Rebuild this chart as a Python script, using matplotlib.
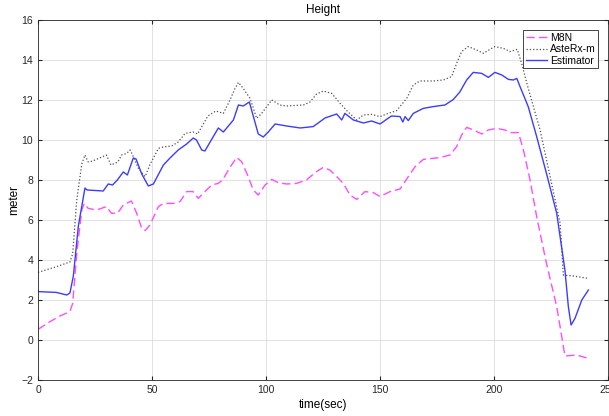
import numpy as np
import matplotlib.pyplot as plt

plt.rcParams.update({'font.size': 8, 'font.family': ['Liberation Sans', 'DejaVu Sans']})

# M8N height (time, meter)
t_m8n = [0, 5.3, 9.6, 14, 15.2, 17, 19.2, 20.3, 22, 25.7, 30, 32.3, 35, 37.4, 40.4, 41, 43.3,
         45.5, 47, 49.1, 52.8, 55, 59.4, 62.3, 65.2, 68, 70.3, 73.2, 76.2, 79, 81, 83.5, 87.1,
         89.3, 92.2, 94.4, 96.6, 99.6, 102.5, 105.3, 109, 113.4, 117.8, 121.5, 125.1, 128,
         131, 133.9, 136.8, 139.8, 143.4, 147.1, 150, 154.4, 158.8, 162.4, 165.4, 169, 176.3,
         180.7, 183.6, 185.8, 188, 191, 194.6, 197.5, 201.2, 204.8, 207, 210.7, 212.9, 215.8,
         218.7, 223, 227.5, 229.7, 231.1, 236.2, 241.4]
h_m8n = [0.53, 0.92, 1.2, 1.42, 1.83, 4.33, 6.5, 6.83, 6.58, 6.5, 6.67, 6.33, 6.35, 6.75, 6.92,
         6.95, 6.33, 5.58, 5.47, 5.75, 6.67, 6.83, 6.83, 6.92, 7.42, 7.42, 7.08, 7.42, 7.75,
         7.83, 8.0, 8.5, 9.13, 8.92, 8.17, 7.5, 7.25, 7.75, 8.03, 7.87, 7.8, 7.83, 8.0, 8.37,
         8.63, 8.5, 8.17, 7.83, 7.25, 7.03, 7.42, 7.37, 7.17, 7.42, 7.55, 8.17, 8.67, 9.03,
         9.12, 9.25, 9.67, 10.25, 10.63, 10.5, 10.3, 10.5, 10.58, 10.5, 10.37, 10.37, 9.5, 8.0,
         6.17, 3.83, 1.67, 0.17, -0.8, -0.75, -0.92]

# AsteRx-m height
t_ast = [0, 8.2, 14, 15.2, 17, 19.2, 20.6, 22, 24, 30, 32, 35, 36.7, 38.9, 40.4, 41.8, 44, 47,
         49, 52.8, 55, 58.6, 61.5, 64.5, 68, 70, 74.5, 78, 81.3, 84.2, 86.4, 87.9, 90, 93, 95.9,
         98.1, 102.5, 106, 109, 116.4, 119.3, 122.2, 125.1, 128.8, 132.5, 136, 139.8, 142.7,
         146.3, 150, 153.6, 157.3, 161.7, 164.6, 167.5, 173.4, 177.8, 181.4, 183.6, 185.8,
         188.7, 192.4, 195.3, 198.2, 200.4, 204.1, 207, 210.2, 212.1, 215, 220.2, 224.6, 229,
         230.4, 234.8, 241.4]
h_ast = [3.38, 3.67, 3.9, 4.3, 7.0, 8.8, 9.25, 8.9, 8.95, 9.25, 8.75, 8.9, 9.25, 9.33, 9.5,
         9.17, 8.58, 8.17, 8.75, 9.58, 9.65, 9.7, 9.9, 10.33, 10.4, 10.3, 11.2, 11.45, 11.33,
         12.0, 12.58, 12.88, 12.58, 12.08, 11.08, 11.33, 12.0, 11.75, 11.7, 11.75, 11.9, 12.3,
         12.45, 12.33, 11.83, 11.4, 11.0, 11.25, 11.28, 11.17, 11.33, 11.47, 12.08, 12.75,
         12.95, 12.95, 13.0, 13.17, 13.83, 14.42, 14.67, 14.5, 14.33, 14.53, 14.67, 14.58,
         14.42, 14.53, 13.83, 12.58, 10.5, 8.17, 5.83, 3.25, 3.2, 3.08]

# Estimator height
t_est = [0, 8, 12.6, 14, 15.5, 17.7, 20.6, 21.5, 28.6, 30.8, 32.7, 34.8, 37.4, 39.2, 41.8, 43,
         45.5, 48.4, 50.6, 55, 57.9, 61.5, 65.2, 68.1, 69.5, 71.8, 73.2, 76, 79.1, 81.3, 85.7,
         87.9, 90, 92.7, 94.4, 96.6, 98.8, 101, 104, 109, 115, 120.7, 125.9, 131, 133.2, 134.6,
         138.3, 142.7, 146.3, 150, 155, 158.8, 160, 161, 162.4, 164.6, 169, 173.4, 178.5,
         182.2, 185, 188, 190.9, 194.6, 197.5, 200.4, 203.4, 206.3, 208.5, 210, 211.4, 215,
         218.7, 223, 227.5, 231.1, 232.6, 233.8, 235.5, 238.5, 241.4]
h_est = [2.42, 2.38, 2.25, 2.35, 3.2, 5.7, 7.6, 7.5, 7.45, 7.8, 7.75, 8.0, 8.4, 8.25, 9.1, 9.05,
         8.3, 7.7, 7.8, 8.75, 9.1, 9.5, 9.8, 10.1, 10.0, 9.5, 9.45, 10.0, 10.6, 10.4, 11.0,
         11.75, 11.7, 11.9, 11.2, 10.3, 10.15, 10.4, 10.8, 10.7, 10.6, 10.67, 11.1, 11.3, 11.0,
         11.33, 11.0, 10.85, 10.95, 10.8, 11.2, 11.17, 10.9, 11.17, 10.97, 11.33, 11.58, 11.67,
         11.75, 12.03, 12.4, 13.0, 13.38, 13.33, 13.13, 13.38, 13.25, 13.03, 13.0, 13.08,
         12.67, 11.67, 10.17, 8.33, 6.33, 3.5, 1.67, 0.75, 1.08, 2.0, 2.5]

fig = plt.figure(figsize=(6.09, 4.16), dpi=100)
ax = fig.add_axes([0.0624, 0.0865, 0.936, 0.8655])
ax.plot(t_m8n, h_m8n, '--', color='#ff4dff', lw=1.0, dashes=(6, 3), label='M8N')
ax.plot(t_ast, h_ast, ':', color='#505050', lw=0.9, label='AsteRx-m')
ax.plot(t_est, h_est, '-', color='#3c3cff', lw=1.0, label='Estimator')
ax.set_xlim(0, 250)
ax.set_ylim(-2, 16)
ax.set_xticks(np.arange(0, 251, 50))
ax.set_yticks(np.arange(-2, 17, 2))
ax.grid(True, color='#dddddd', lw=0.6)
ax.tick_params(direction='in', length=3, colors='#262626', labelsize=7.5, top=True, right=True)
for s in ax.spines.values():
    s.set_color('#262626')
    s.set_linewidth(0.6)
ax.set_title('Height', fontsize=8.5, pad=5)
ax.set_xlabel('time(sec)', fontsize=8.5, labelpad=3)
ax.set_ylabel('meter', fontsize=8.5, labelpad=1)
leg = ax.legend(loc='upper right', fontsize=7.5, fancybox=False, framealpha=1,
                edgecolor='#262626', borderpad=0.25, handlelength=2.0, handletextpad=0.3,
                labelspacing=0.15, borderaxespad=0, bbox_to_anchor=(0.983, 0.972))
leg.get_frame().set_linewidth(0.6)
fig.savefig('out.png', dpi=100)
